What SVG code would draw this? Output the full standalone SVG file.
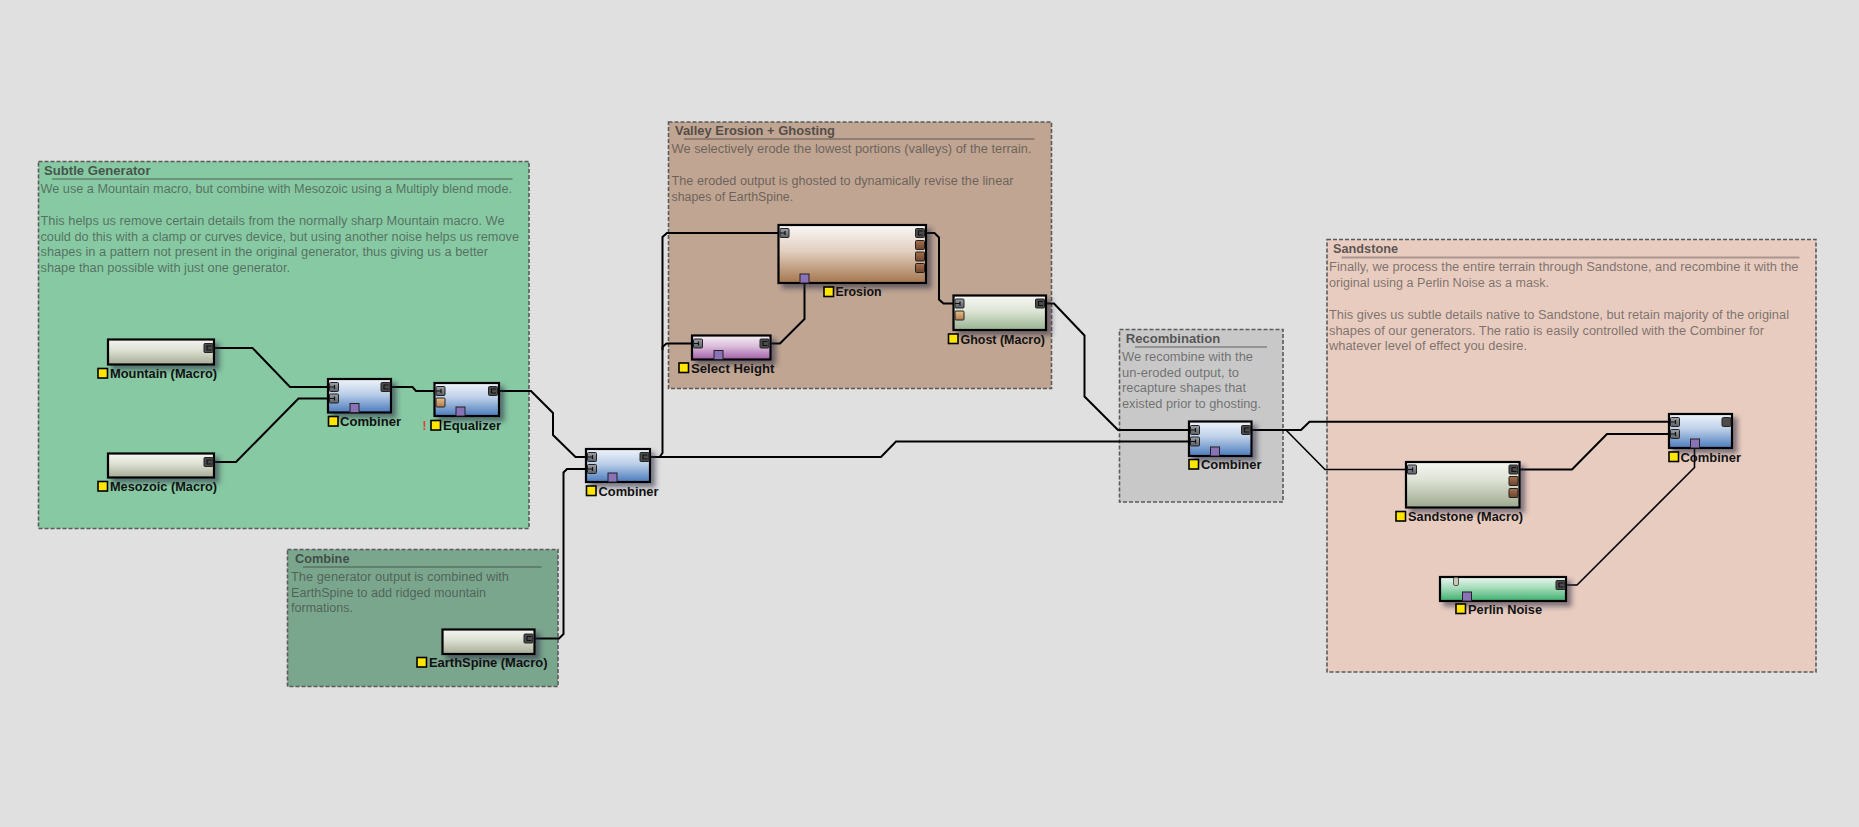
<svg xmlns="http://www.w3.org/2000/svg" xmlns:xlink="http://www.w3.org/1999/xlink" width="1859" height="827" viewBox="0 0 1859 827">
<style>
.grp{stroke:#5a5a5a;stroke-width:1.6;stroke-dasharray:4 2}
.title{font-family:"Liberation Sans",Arial,sans-serif;font-weight:bold;font-size:12.5px;fill:#333;fill-opacity:0.78}
.body{font-family:"Liberation Sans",Arial,sans-serif;font-size:12px;fill:#333;fill-opacity:0.6}
.uline{stroke:#333;stroke-opacity:0.35;stroke-width:2}
.node{stroke:#000;stroke-width:2.2;filter:url(#sh)}
.lbl{font-family:"Liberation Sans",Arial,sans-serif;font-weight:bold;font-size:13px;fill:#111}
.ysq{fill:#ffe600;stroke:#000;stroke-width:1.6}
.wire{fill:none;stroke:#000;stroke-width:2;stroke-linejoin:miter}
.thin{stroke-width:1.6}
</style>
<defs>
<filter id="sh" x="-20%" y="-20%" width="150%" height="170%">
<feDropShadow dx="4.5" dy="4.5" stdDeviation="2.5" flood-color="#2c2540" flood-opacity="0.55"/>
</filter>
<linearGradient id="gMacro" x1="0" y1="0" x2="0" y2="1"><stop offset="0" stop-color="#f4f6f0"/><stop offset="0.4" stop-color="#dfe3d6"/><stop offset="1" stop-color="#a6ad96"/></linearGradient>
<linearGradient id="gBlue" x1="0" y1="0" x2="0" y2="1"><stop offset="0" stop-color="#f0f4fb"/><stop offset="0.45" stop-color="#bccfe8"/><stop offset="1" stop-color="#4a7bbd"/></linearGradient>
<linearGradient id="gBrown" x1="0" y1="0" x2="0" y2="1"><stop offset="0" stop-color="#fbf8f6"/><stop offset="0.45" stop-color="#e2cfc0"/><stop offset="1" stop-color="#a5764e"/></linearGradient>
<linearGradient id="gPurple" x1="0" y1="0" x2="0" y2="1"><stop offset="0" stop-color="#f6f0f6"/><stop offset="0.45" stop-color="#dbbcdb"/><stop offset="1" stop-color="#a05fa8"/></linearGradient>
<linearGradient id="gGhost" x1="0" y1="0" x2="0" y2="1"><stop offset="0" stop-color="#f7f8f4"/><stop offset="0.45" stop-color="#dde5d6"/><stop offset="1" stop-color="#98b290"/></linearGradient>
<linearGradient id="gSand" x1="0" y1="0" x2="0" y2="1"><stop offset="0" stop-color="#f5f7f2"/><stop offset="0.4" stop-color="#dde2d4"/><stop offset="1" stop-color="#9ea88e"/></linearGradient>
<linearGradient id="gPerlin" x1="0" y1="0" x2="0" y2="1"><stop offset="0" stop-color="#eef9f3"/><stop offset="0.45" stop-color="#a6dcbb"/><stop offset="1" stop-color="#3dae6c"/></linearGradient>
<linearGradient id="gPin" x1="0" y1="0" x2="0" y2="1"><stop offset="0" stop-color="#9aa0a6"/><stop offset="1" stop-color="#5a6066"/></linearGradient>
<linearGradient id="gPbrown" x1="0" y1="0" x2="0" y2="1"><stop offset="0" stop-color="#a8704a"/><stop offset="1" stop-color="#6a4430"/></linearGradient>
<linearGradient id="gPorange" x1="0" y1="0" x2="0" y2="1"><stop offset="0" stop-color="#e8c08e"/><stop offset="1" stop-color="#b07a48"/></linearGradient>
<g id="pin"><rect width="9" height="9" rx="1" fill="url(#gPin)" stroke="#222" stroke-width="1"/><path d="M0,4.5 H5 M5,2.5 V6.5" fill="none" stroke="#111" stroke-width="1.2"/></g>
<g id="pout"><rect width="9" height="9" rx="1" fill="#4c4c4c" stroke="#222" stroke-width="1"/><path d="M7.5,2.5 H3 V6.5 H7.5" fill="none" stroke="#111" stroke-width="1.2"/></g>
<g id="pout0"><rect width="9" height="9" rx="1.5" fill="#4c4c4a" stroke="#222" stroke-width="1"/></g>
<g id="pbrown"><rect width="9" height="9" rx="1" fill="url(#gPbrown)" stroke="#222" stroke-width="1"/></g>
<g id="porange"><rect width="9" height="9" rx="1" fill="url(#gPorange)" stroke="#222" stroke-width="1"/></g>
<g id="ppurple"><rect width="9" height="9" fill="#8a72b6" stroke="#222" stroke-width="1"/></g>
</defs>
<rect width="1859" height="827" fill="#e0e0e0"/>

<g id="group-subtle">
<rect class="grp" x="38.5" y="161.5" width="490.5" height="367" fill="#87c9a3"/>
<text class="title" x="44" y="174.5" textLength="106.5" lengthAdjust="spacingAndGlyphs">Subtle Generator</text>
<line class="uline" x1="52" y1="179" x2="512.5" y2="179"/>
<text class="body" x="40.5" y="193.3" textLength="471.5" lengthAdjust="spacingAndGlyphs">We use a Mountain macro, but combine with Mesozoic using a Multiply blend mode.</text>
<text class="body" x="40.5" y="225" textLength="464" lengthAdjust="spacingAndGlyphs">This helps us remove certain details from the normally sharp Mountain macro. We</text>
<text class="body" x="40.5" y="240.7" textLength="478.5" lengthAdjust="spacingAndGlyphs">could do this with a clamp or curves device, but using another noise helps us remove</text>
<text class="body" x="40.5" y="256.3" textLength="447.5" lengthAdjust="spacingAndGlyphs">shapes in a pattern not present in the original generator, thus giving us a better</text>
<text class="body" x="40.5" y="272" textLength="249.5" lengthAdjust="spacingAndGlyphs">shape than possible with just one generator.</text>
</g>

<g id="group-combine">
<rect class="grp" x="287.5" y="549.5" width="270.5" height="137" fill="#7ba68e"/>
<text class="title" x="295" y="562.5" textLength="54.5" lengthAdjust="spacingAndGlyphs">Combine</text>
<line class="uline" x1="303" y1="567" x2="541.5" y2="567"/>
<text class="body" x="291" y="581" textLength="218" lengthAdjust="spacingAndGlyphs">The generator output is combined with</text>
<text class="body" x="291" y="596.7" textLength="195" lengthAdjust="spacingAndGlyphs">EarthSpine to add ridged mountain</text>
<text class="body" x="291" y="612.3" textLength="62" lengthAdjust="spacingAndGlyphs">formations.</text>
</g>

<g id="group-valley">
<rect class="grp" x="668.5" y="122" width="383" height="266.5" fill="#bfa592"/>
<text class="title" x="675" y="135" textLength="160" lengthAdjust="spacingAndGlyphs">Valley Erosion + Ghosting</text>
<line class="uline" x1="684" y1="139" x2="1034.5" y2="139"/>
<text class="body" x="671.5" y="153" textLength="360" lengthAdjust="spacingAndGlyphs">We selectively erode the lowest portions (valleys) of the terrain.</text>
<text class="body" x="671.5" y="185" textLength="342" lengthAdjust="spacingAndGlyphs">The eroded output is ghosted to dynamically revise the linear</text>
<text class="body" x="671.5" y="200.7" textLength="121.6" lengthAdjust="spacingAndGlyphs">shapes of EarthSpine.</text>
</g>

<g id="group-recombination">
<rect class="grp" x="1119.5" y="329.5" width="163.5" height="172.5" fill="#c8c8c8"/>
<text class="title" x="1125.7" y="342.7" textLength="94.5" lengthAdjust="spacingAndGlyphs">Recombination</text>
<line class="uline" x1="1135" y1="347" x2="1267" y2="347"/>
<text class="body" x="1122" y="360.7" textLength="131" lengthAdjust="spacingAndGlyphs">We recombine with the</text>
<text class="body" x="1122" y="376.7" textLength="117" lengthAdjust="spacingAndGlyphs">un-eroded output, to</text>
<text class="body" x="1122" y="392.3" textLength="124" lengthAdjust="spacingAndGlyphs">recapture shapes that</text>
<text class="body" x="1122" y="408.3" textLength="139" lengthAdjust="spacingAndGlyphs">existed prior to ghosting.</text>
</g>

<g id="group-sandstone">
<rect class="grp" x="1327" y="239.5" width="489" height="432.5" fill="#e8ccc0"/>
<text class="title" x="1333" y="253.3" textLength="65" lengthAdjust="spacingAndGlyphs">Sandstone</text>
<line class="uline" x1="1341.5" y1="257.5" x2="1799.5" y2="257.5"/>
<text class="body" x="1329" y="271" textLength="469.5" lengthAdjust="spacingAndGlyphs">Finally, we process the entire terrain through Sandstone, and recombine it with the</text>
<text class="body" x="1329" y="286.5" textLength="220" lengthAdjust="spacingAndGlyphs">original using a Perlin Noise as a mask.</text>
<text class="body" x="1329" y="319" textLength="460" lengthAdjust="spacingAndGlyphs">This gives us subtle details native to Sandstone, but retain majority of the original</text>
<text class="body" x="1329" y="334.5" textLength="435" lengthAdjust="spacingAndGlyphs">shapes of our generators. The ratio is easily controlled with the Combiner for</text>
<text class="body" x="1329" y="350" textLength="198" lengthAdjust="spacingAndGlyphs">whatever level of effect you desire.</text>
</g>

<g id="connectors">
<path class="wire" d="M213,348 L252.5,348 L290,387 L329,387"/>
<path class="wire" d="M213,462 L236,462 L298.5,398.5 L329,398.5"/>
<path class="wire" d="M390,387 L412.5,387 L416,391 L435.5,391"/>
<path class="wire" d="M498,391 L531,391 L553,413 L553,435 L575.5,457 L587,457"/>
<path class="wire" d="M533,638.5 L559,638.5 L563.5,634 L563.5,472.5 L567,469 L587,469"/>
<path class="wire" d="M650,457 L659.5,457 L662.5,453 L662.5,237 L667,233 L779.5,233"/>
<path class="wire" d="M662.5,350 L662.5,347 L666.5,343.5 L693,343.5"/>
<path class="wire" d="M650,457 L881,457 L896,441.5 L1190,441.5"/>
<path class="wire" d="M769,343.5 L780,343.5 L804.5,319 L804.5,282"/>
<path class="wire" d="M925,233 L934.5,233 L939,237.5 L939,299.5 L943.5,303.5 L954.5,303.5"/>
<path class="wire" d="M1045,303.5 L1054,303.5 L1084.5,335.5 L1084.5,396.5 L1118,430 L1190,430"/>
<path class="wire" d="M1251,430 L1301,430 L1309.5,421.7 L1670,421.7"/>
<path class="wire thin" d="M1286,430 L1325,469.5 L1407,469.5"/>
<path class="wire" d="M1518.5,469.5 L1572,469.5 L1607,434 L1670,434"/>
<path class="wire thin" d="M1565.5,585 L1577,585 L1694.5,467.5 L1694.5,440"/>
</g>

<g id="n-mountain">
<rect class="node" x="108" y="339.5" width="106" height="25" fill="url(#gMacro)"/>
<use href="#pout" x="204" y="343.5"/>
<rect class="ysq" x="98" y="368.5" width="9.5" height="9.5"/>
<text class="lbl" x="110" y="377.5" textLength="107" lengthAdjust="spacingAndGlyphs">Mountain (Macro)</text>
</g>

<g id="n-mesozoic">
<rect class="node" x="108" y="453.5" width="106" height="24" fill="url(#gMacro)"/>
<use href="#pout" x="204" y="457.5"/>
<rect class="ysq" x="98" y="481.5" width="9.5" height="9.5"/>
<text class="lbl" x="110" y="490.5" textLength="107" lengthAdjust="spacingAndGlyphs">Mesozoic (Macro)</text>
</g>

<g id="n-combiner1">
<rect class="node" x="328" y="379" width="63" height="33.5" fill="url(#gBlue)"/>
<use href="#pin" x="329.5" y="382.5"/>
<use href="#pin" x="329.5" y="394"/>
<use href="#pout" x="381" y="382.5"/>
<use href="#ppurple" x="350" y="403.5"/>
<rect class="ysq" x="328.5" y="416.5" width="9.5" height="9.5"/>
<text class="lbl" x="340" y="426" textLength="61" lengthAdjust="spacingAndGlyphs">Combiner</text>
</g>

<g id="n-equalizer">
<rect class="node" x="434.5" y="383" width="64.5" height="33" fill="url(#gBlue)"/>
<use href="#pin" x="436" y="386.5"/>
<use href="#porange" x="436" y="398"/>
<use href="#pout" x="488.5" y="386.5"/>
<use href="#ppurple" x="456" y="407"/>
<text x="422.5" y="430" font-family="Liberation Sans, Arial, sans-serif" font-weight="bold" font-size="12" fill="#e03c3c">!</text>
<rect class="ysq" x="431" y="420.5" width="9.5" height="9.5"/>
<text class="lbl" x="443" y="430" textLength="58" lengthAdjust="spacingAndGlyphs">Equalizer</text>
</g>

<g id="n-combiner2">
<rect class="node" x="586" y="449" width="64" height="33" fill="url(#gBlue)"/>
<use href="#pin" x="587.5" y="452.5"/>
<use href="#pin" x="587.5" y="464.5"/>
<use href="#pout" x="640" y="452.5"/>
<use href="#ppurple" x="608" y="473"/>
<rect class="ysq" x="586.5" y="486" width="9.5" height="9.5"/>
<text class="lbl" x="598.5" y="495.5" textLength="60" lengthAdjust="spacingAndGlyphs">Combiner</text>
</g>

<g id="n-earthspine">
<rect class="node" x="442.5" y="629.5" width="92" height="24.5" fill="url(#gMacro)"/>
<use href="#pout" x="524" y="634"/>
<rect class="ysq" x="417" y="657.5" width="9.5" height="9.5"/>
<text class="lbl" x="429" y="667" textLength="118.5" lengthAdjust="spacingAndGlyphs">EarthSpine (Macro)</text>
</g>

<g id="n-erosion">
<rect class="node" x="778.5" y="225" width="147.5" height="58" fill="url(#gBrown)"/>
<use href="#pin" x="780" y="228.5"/>
<use href="#pout" x="915.5" y="228.5"/>
<use href="#pbrown" x="915.5" y="240.5"/>
<use href="#pbrown" x="915.5" y="252"/>
<use href="#pbrown" x="915.5" y="263.5"/>
<use href="#ppurple" x="800" y="274"/>
<rect class="ysq" x="824" y="287" width="9.5" height="9.5"/>
<text class="lbl" x="835.5" y="296" textLength="46" lengthAdjust="spacingAndGlyphs">Erosion</text>
</g>

<g id="n-selectheight">
<rect class="node" x="692" y="335.5" width="78.5" height="24" fill="url(#gPurple)"/>
<use href="#pin" x="693.5" y="339"/>
<use href="#pout" x="760" y="339"/>
<use href="#ppurple" x="714" y="350.5"/>
<rect class="ysq" x="679" y="363" width="9.5" height="9.5"/>
<text class="lbl" x="691" y="372.5" textLength="83.5" lengthAdjust="spacingAndGlyphs">Select Height</text>
</g>

<g id="n-ghost">
<rect class="node" x="953.5" y="295.5" width="92.5" height="34.5" fill="url(#gGhost)"/>
<use href="#pin" x="955" y="299"/>
<use href="#porange" x="955" y="311"/>
<use href="#pout" x="1035.5" y="299"/>
<rect class="ysq" x="948.5" y="334" width="9.5" height="9.5"/>
<text class="lbl" x="960.5" y="343.5" textLength="84.5" lengthAdjust="spacingAndGlyphs">Ghost (Macro)</text>
</g>

<g id="n-combiner3">
<rect class="node" x="1189" y="421.5" width="62.5" height="34.5" fill="url(#gBlue)"/>
<use href="#pin" x="1190.5" y="425.5"/>
<use href="#pin" x="1190.5" y="437"/>
<use href="#pout" x="1241.5" y="425.5"/>
<use href="#ppurple" x="1210.5" y="447"/>
<rect class="ysq" x="1189" y="459.5" width="9.5" height="9.5"/>
<text class="lbl" x="1201" y="469" textLength="60.5" lengthAdjust="spacingAndGlyphs">Combiner</text>
</g>

<g id="n-sandstone">
<rect class="node" x="1406" y="462" width="113.5" height="45.5" fill="url(#gSand)"/>
<use href="#pin" x="1407.5" y="465"/>
<use href="#pout" x="1509" y="465"/>
<use href="#pbrown" x="1509" y="476.5"/>
<use href="#pbrown" x="1509" y="488.5"/>
<rect class="ysq" x="1396" y="511.5" width="9.5" height="9.5"/>
<text class="lbl" x="1408" y="521" textLength="115" lengthAdjust="spacingAndGlyphs">Sandstone (Macro)</text>
</g>

<g id="n-combiner4">
<rect class="node" x="1669" y="414" width="63" height="34" fill="url(#gBlue)"/>
<use href="#pin" x="1670.5" y="417.5"/>
<use href="#pin" x="1670.5" y="429.5"/>
<use href="#pout0" x="1722" y="417.5"/>
<use href="#ppurple" x="1690.5" y="439"/>
<rect class="ysq" x="1669" y="452" width="9.5" height="9.5"/>
<text class="lbl" x="1680.5" y="462" textLength="60.5" lengthAdjust="spacingAndGlyphs">Combiner</text>
</g>

<g id="n-perlin">
<rect class="node" x="1440" y="577" width="126" height="24" fill="url(#gPerlin)"/>
<rect x="1453.5" y="577.5" width="5" height="8" rx="1.5" fill="#c8cab2" stroke="#555" stroke-width="1"/>
<use href="#pout" x="1556" y="580.5"/>
<use href="#ppurple" x="1462.5" y="592"/>
<rect class="ysq" x="1456" y="604" width="9.5" height="9.5"/>
<text class="lbl" x="1468" y="614" textLength="74" lengthAdjust="spacingAndGlyphs">Perlin Noise</text>
</g>
</svg>
